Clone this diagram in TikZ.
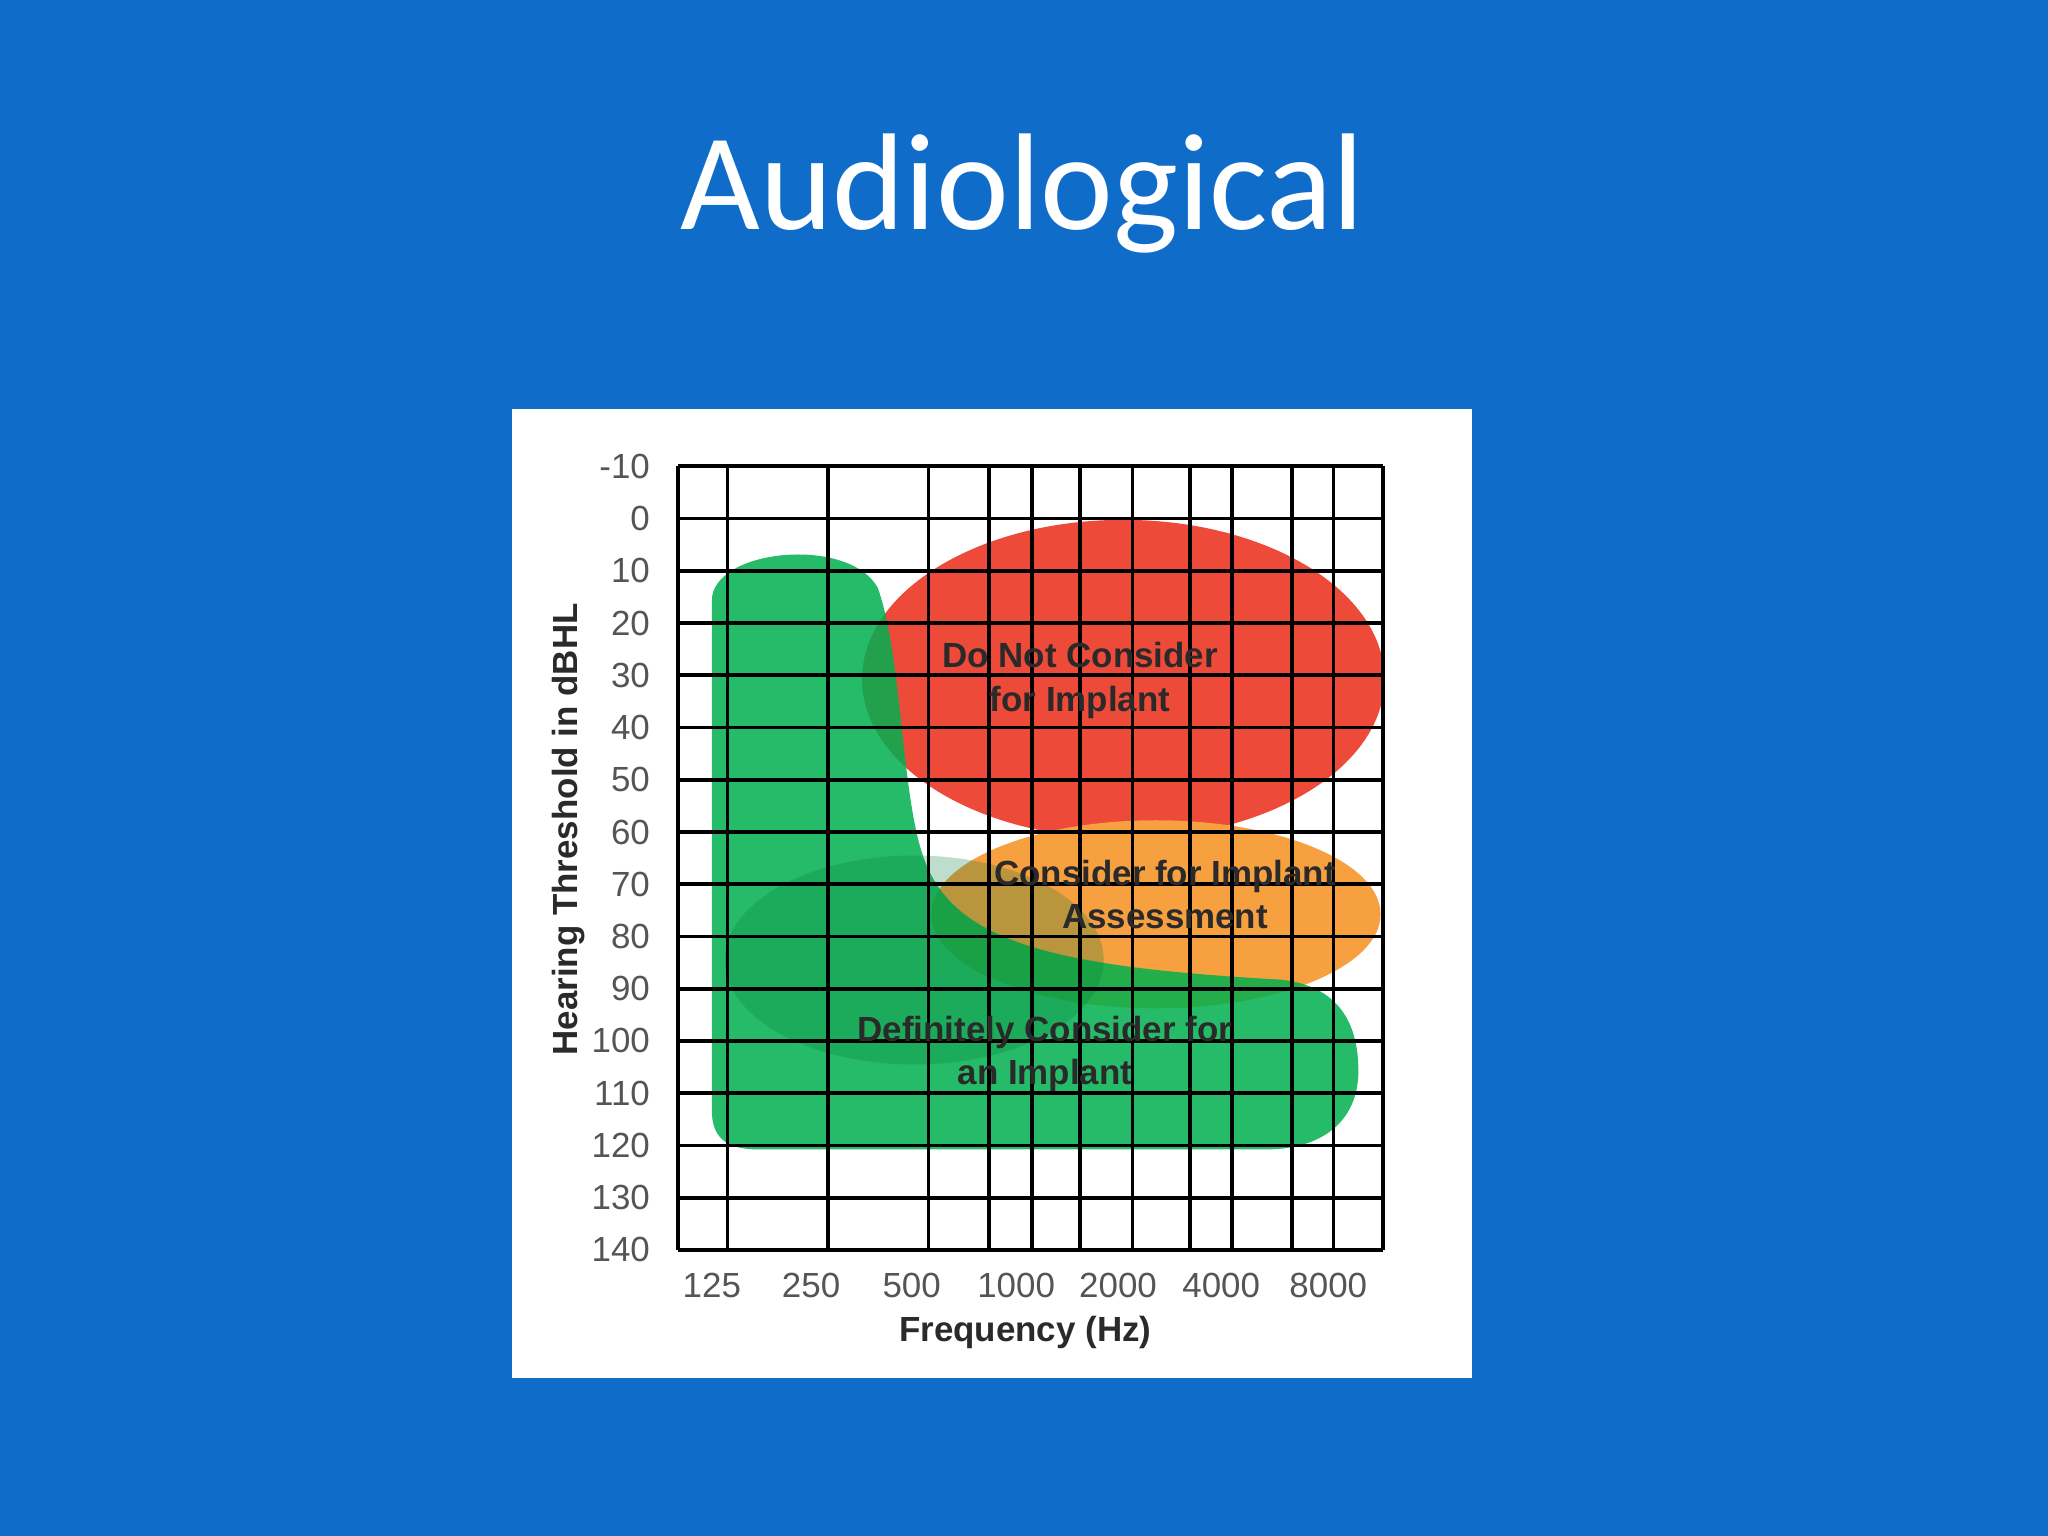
\documentclass[tikz,border=0pt]{standalone}
\usepackage{fontspec}
\setmainfont{Liberation Sans}
\newfontfamily\titlefont{Carlito}
\definecolor{bg}{HTML}{0F6CC8}
\definecolor{redz}{HTML}{EE4A3A}
\definecolor{orz}{HTML}{F7A040}
\definecolor{grz}{HTML}{00B04E}
\definecolor{txt}{HTML}{2A2A2A}
\definecolor{tick}{HTML}{555555}
\begin{document}
\begin{tikzpicture}[x=0.01cm,y=-0.01cm,
  lab/.style={font=\bfseries\fontsize{7.6}{9.4}\selectfont,text=txt,align=center},
  ticklab/.style={font=\fontsize{7.6}{9}\selectfont,text=tick}]
\fill[bg] (0,0) rectangle (1568,1176);
\useasboundingbox (0,0) rectangle (1568,1176);
\node[font=\titlefont\fontsize{30}{36}\selectfont,text=white] (title) at (783,148) {Audiological};
\fill[white] (392,313) rectangle (1127,1055);
% zones
\fill[redz] (860,520) ellipse [x radius=200, y radius=122];
\fill[orz] (885,700) ellipse [x radius=172, y radius=72];
\fill[grz,opacity=0.85] (545,850) -- (545,460) .. controls (545,420) and (650,410) .. (672,450)
  .. controls (690,500) and (690,600) .. (705,650) .. controls (725,720) and (800,740) .. (980,750)
  .. controls (1030,755) and (1040,790) .. (1040,820) .. controls (1040,860) and (1010,880) .. (970,880)
  -- (580,880) .. controls (555,880) and (545,870) .. (545,850) -- cycle;
\fill[grz!70!black,opacity=0.25] (700,735) ellipse [x radius=145, y radius=80];
% grid
\foreach \k in {0,...,15} \draw[black,line width=0.8pt] (519,357+40*\k) -- (1059,357+40*\k);
\foreach \x in {519,557,634,711,757,790,827,867,911,943,989,1021,1059} \draw[black,line width=0.8pt] (\x,357) -- (\x,957);
\foreach \v [count=\k from 0] in {-10,0,10,20,30,40,50,60,70,80,90,100,110,120,130,140}
  \node[ticklab,anchor=east] at (510,357+40*\k) {\v};
\foreach \x/\v in {545/125,621/250,698/500,778/1000,856/2000,935/4000,1017/8000}
  \node[ticklab] at (\x,984) {\v};
\node[lab,rotate=90] (ylab) at (435,635) {Hearing Threshold in dBHL};
\node[lab] (xlab) at (785,1020) {Frequency (Hz)};
\node[lab] (dn) at (827,521) {Do Not Consider\\for Implant};
\node[lab] (ca) at (892,685) {Consider for Implant\\Assessment};
\node[lab] (dc) at (800,807) {Definitely Consider for\\an Implant};
\end{tikzpicture}
\end{document}
